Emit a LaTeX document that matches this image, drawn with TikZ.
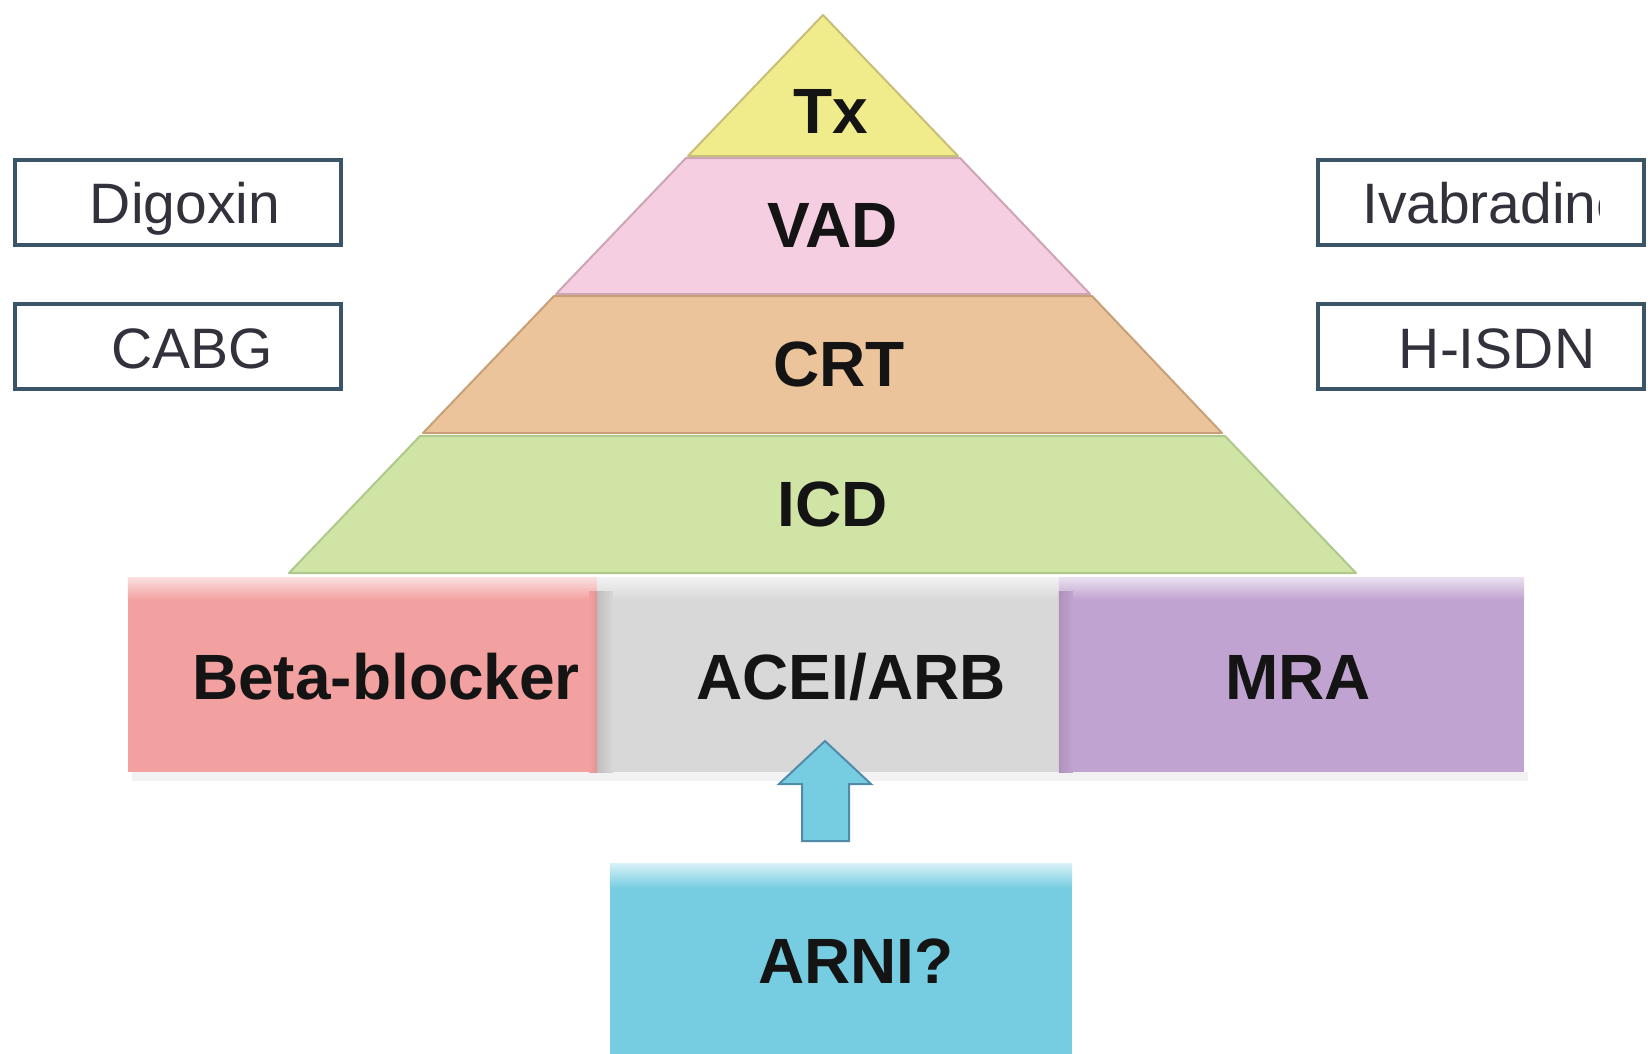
\documentclass[tikz,border=0pt]{standalone}
\usepackage{fontspec}
\setmainfont{Liberation Sans}
\usepackage{graphicx}
\definecolor{txc}{RGB}{240,236,140}
\definecolor{txd}{RGB}{200,190,120}
\definecolor{vadc}{RGB}{245,206,226}
\definecolor{vadd}{RGB}{205,165,180}
\definecolor{crtc}{RGB}{236,196,156}
\definecolor{crtd}{RGB}{200,160,120}
\definecolor{icdc}{RGB}{208,228,166}
\definecolor{icdd}{RGB}{175,200,140}
\definecolor{betac}{RGB}{243,160,160}
\definecolor{acec}{RGB}{216,216,216}
\definecolor{mrac}{RGB}{192,163,208}
\definecolor{arnic}{RGB}{118,205,225}
\definecolor{arrowd}{RGB}{80,140,170}
\definecolor{boxc}{RGB}{58,84,104}
\definecolor{boxt}{RGB}{50,50,60}
\begin{document}
\begin{tikzpicture}[x=1pt,y=-1pt,
  band/.style={line width=2pt, line join=round},
  lbl/.style={font=\fontsize{64}{64}\selectfont\bfseries, text=black!92, inner sep=0pt, anchor=base},
  sidebox/.style={draw=boxc, line width=4pt, fill=white, inner sep=0pt, minimum width=326pt, minimum height=85pt},
  sidelbl/.style={font=\fontsize{57}{57}\selectfont, text=boxt, inner sep=0pt, anchor=base},
  blk/.style={inner sep=0pt, minimum height=194pt}]
\useasboundingbox (0,0) rectangle (1648,1054);
\fill[white] (0,0) rectangle (1648,1054);

% pyramid bands
\filldraw[band, fill=txc, draw=txd] (823,15) -- (958,156) -- (688,156) -- cycle;
\filldraw[band, fill=vadc, draw=vadd] (686,158) -- (960,158) -- (1090,294) -- (556,294) -- cycle;
\filldraw[band, fill=crtc, draw=crtd] (554,296) -- (1092,296) -- (1222,433) -- (423,433) -- cycle;
\filldraw[band, fill=icdc, draw=icdd] (420,436) -- (1225,436) -- (1356,573) -- (289,573) -- cycle;

\node[lbl] (tx) at (831,133) {Tx};
\node[lbl] (vad) at (833,247) {VAD};
\node[lbl] (crt) at (839,386) {CRT};
\node[lbl] (icd) at (833,526) {ICD};

% side boxes
\node[sidebox] (digbox) at (178,202) {};
\node[sidebox] (cabgbox) at (178,346) {};
\node[sidebox] (ivabox) at (1481,202) {};
\node[sidebox] (hisdnbox) at (1481,346) {};
\node[sidelbl] (dig) at (185,223) {Digoxin};
\node[sidelbl] (cabg) at (192,368) {CABG};
\begin{scope}
  \clip (1320,165) rectangle (1599,240);
  \node[sidelbl, anchor=base west] (iva) at (1362,223) {Ivabradine};
\end{scope}
\node[sidelbl] (hisdn) at (1497,368) {H-ISDN};

% bottom row
\fill[black!5] (132,772) rectangle (1528,781);
\node[blk, fill=betac, minimum width=469pt] (beta) at (362.5,675) {};
\node[blk, fill=acec, minimum width=462pt] (ace) at (828,675) {};
\node[blk, fill=mrac, minimum width=465pt] (mra) at (1291.5,675) {};
\shade[top color=betac!35, bottom color=betac] (beta.north west) rectangle ([yshift=-22pt]beta.north east);
\shade[top color=acec!35, bottom color=acec] (ace.north west) rectangle ([yshift=-22pt]ace.north east);
\shade[top color=mrac!35, bottom color=mrac] (mra.north west) rectangle ([yshift=-22pt]mra.north east);
\shade[left color=acec!88!black, right color=acec] ([yshift=-14pt]ace.north west) rectangle ([xshift=16pt]ace.south west);
\shade[left color=mrac!90!black, right color=mrac] ([yshift=-14pt]mra.north west) rectangle ([xshift=14pt]mra.south west);
\shade[left color=betac, right color=betac!92!black] ([xshift=-8pt,yshift=-14pt]beta.north east) rectangle (beta.south east);
\node[lbl] (betat) at (386,699) {Beta-blocker};
\node[lbl] (acet) at (851,699) {ACEI/ARB};
\node[lbl] (mrat) at (1298,699) {MRA};

% ARNI box
\node[inner sep=0pt, fill=arnic, minimum width=462pt, minimum height=190pt] (arni) at (841,959) {};
\shade[top color=arnic!30, bottom color=arnic] (arni.north west) rectangle ([yshift=-24pt]arni.north east);
\node[lbl] (arnit) at (856,983) {ARNI?};

% block arrow from ARNI towards ACEI/ARB
\filldraw[fill=arnic, draw=arrowd, line width=2pt, line join=miter]
  (825,741) -- (871,784) -- (849,784) -- (849,841) -- (802,841) -- (802,784) -- (779,784) -- cycle;
\end{tikzpicture}
\end{document}
